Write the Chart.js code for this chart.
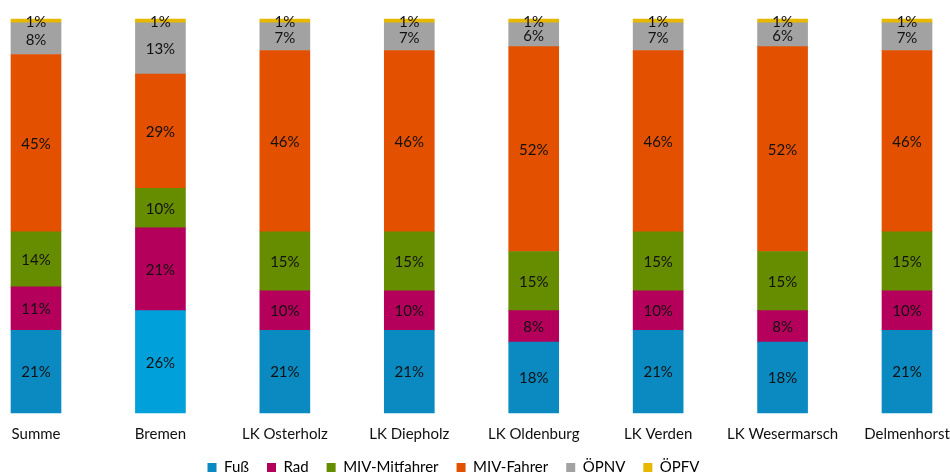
<!DOCTYPE html>
<html>
<head>
<meta charset="utf-8">
<script src="https://cdn.jsdelivr.net/npm/chart.js@4"></script>
<style>
html,body{margin:0;padding:0;background:#fff;}
#wrap{width:950px;height:476px;}
</style>
</head>
<body>
<div id="wrap"><canvas id="c" width="950" height="476"></canvas></div>
<script>
const categories = ['Summe','Bremen','LK Osterholz','LK Diepholz','LK Oldenburg','LK Verden','LK Wesermarsch','Delmenhorst'];
const seriesNames = ['Fuß','Rad','MIV-Mitfahrer','MIV-Fahrer','ÖPNV','ÖPFV'];
const fuss      = [21,26,21,21,18,21,18,21];
const rad       = [11,21,10,10, 8,10, 8,10];
const mivMit    = [14,10,15,15,15,15,15,15];
const mivFahrer = [45,29,46,46,52,46,52,46];
const oepnv     = [ 8,13, 7, 7, 6, 7, 6, 7];
const oepfv     = [ 1, 1, 1, 1, 1, 1, 1, 1];

const colors = ['#0A8AC0','#B4005A','#668C00','#E35100','#A2A2A2','#E6B800'];
const fussColors = categories.map(c => c === 'Bremen' ? '#00A0DB' : colors[0]);

const FONT = 'Lato, "Open Sans", sans-serif';

const labelPlugin = {
  id: 'segLabels',
  afterLayout(chart) {
    // let the category labels extend below the (shortened) axis box without being clipped
    chart.scales.x.bottom = chart.height;
  },
  afterDatasetsDraw(chart) {
    const ctx = chart.ctx;
    ctx.save();
    ctx.font = '15px ' + FONT;
    ctx.fillStyle = '#111';
    ctx.textAlign = 'center';
    ctx.textBaseline = 'middle';
    chart.data.datasets.forEach((ds, i) => {
      const meta = chart.getDatasetMeta(i);
      meta.data.forEach((el, j) => {
        const p = el.getProps(['x','y','base'], true);
        ctx.fillText(ds.data[j] + '%', p.x, (p.y + p.base) / 2 + 1);
      });
    });
    ctx.restore();
  }
};

const allData = [fuss, rad, mivMit, mivFahrer, oepnv, oepfv];
new Chart(document.getElementById('c'), {
  type: 'bar',
  data: {
    labels: categories,
    datasets: allData.map((d, i) => ({
      label: seriesNames[i],
      data: d,
      backgroundColor: i === 0 ? fussColors : colors[i],
      borderWidth: 0,
      barThickness: 50,
      clip: false
    }))
  },
  options: {
    responsive: false,
    animation: false,
    devicePixelRatio: 1,
    layout: { padding: { left: 0, right: 43, top: 19, bottom: -9 } },
    scales: {
      x: {
        stacked: true,
        offset: false,
        grid: { display: false },
        border: { display: false },
        ticks: { color: '#111', font: { family: FONT, size: 15 }, padding: 4, maxRotation: 0, autoSkip: false },
        afterFit(s) { s.height = 29; s.paddingLeft = 0; s.paddingRight = 0; }
      },
      y: {
        stacked: true,
        min: 0, max: 100,
        grid: { display: false },
        border: { display: false },
        ticks: { display: false },
        afterFit(s) { s.width = 36; }
      }
    },
    plugins: {
      legend: {
        position: 'bottom',
        labels: {
          boxWidth: 9, boxHeight: 9,
          color: '#111',
          font: { family: FONT, size: 15 },
          padding: 18,
          generateLabels(chart) {
            return chart.data.datasets.map((ds, i) => ({
              text: ds.label,
              fillStyle: colors[i],
              strokeStyle: colors[i],
              lineWidth: 0,
              datasetIndex: i,
              hidden: false
            }));
          }
        }
      },
      tooltip: { enabled: false }
    }
  },
  plugins: [labelPlugin]
});
</script>
</body>
</html>
